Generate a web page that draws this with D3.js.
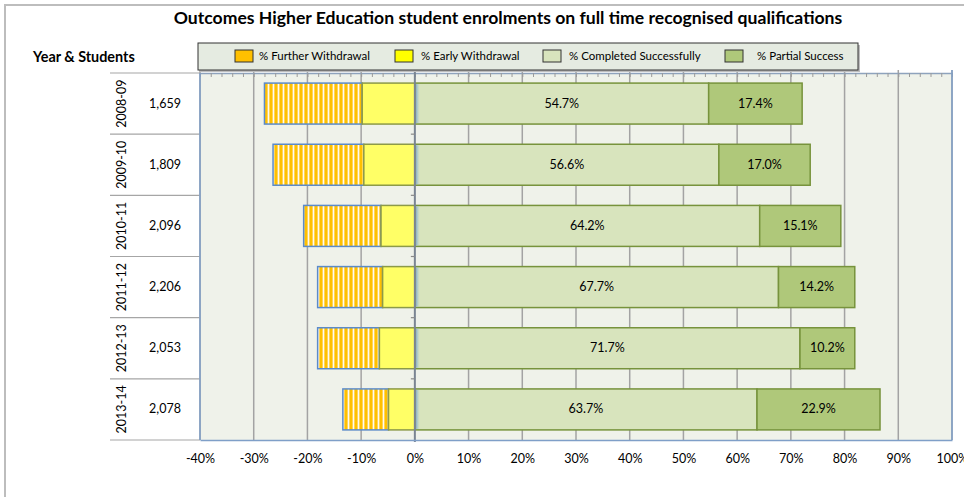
<!DOCTYPE html>
<html>
<head>
<meta charset="utf-8">
<script src="https://cdn.jsdelivr.net/npm/d3@7"></script>
<style>
  html, body { margin: 0; padding: 0; background: #fff; }
  svg { display: block; font-family: Lato, "Open Sans", sans-serif; }
</style>
</head>
<body>
<svg id="chart" width="964" height="497"></svg>
<script>
// Academic years and the number of students enrolled in each
const years = ["2008-09", "2009-10", "2010-11", "2011-12", "2012-13", "2013-14"];
const students = ["1,659", "1,809", "2,096", "2,206", "2,053", "2,078"];

// Outcome shares (%) per year
const furtherWithdrawal = [18.2, 16.9, 14.4, 12.1, 11.5, 8.5];
const earlyWithdrawal = [9.8, 9.5, 6.3, 6.0, 6.6, 4.9];
const completedSuccessfully = [54.7, 56.6, 64.2, 67.7, 71.7, 63.7];
const partialSuccess = [17.4, 17.0, 15.1, 14.2, 10.2, 22.9];

const seriesNames = ["% Further Withdrawal", "% Early Withdrawal", "% Completed Successfully", "% Partial Success"];
const xTicks = [-40, -30, -20, -10, 0, 10, 20, 30, 40, 50, 60, 70, 80, 90, 100];

const svg = d3.select("#chart");

const plot = { left: 200, right: 952, top: 73, bottom: 440 };

const x = d3.scaleLinear().domain([-40, 100]).range([plot.left, plot.right]);
const y = d3.scaleBand().domain(years).range([plot.top, plot.bottom])
  .paddingInner(0.33).paddingOuter(0.165);
const yCell = d3.scaleBand().domain(years).range([plot.top, plot.bottom]);

// Striped fill for the further-withdrawal segments
const defs = svg.append("defs");
const pat = defs.append("pattern").attr("id", "stripes")
  .attr("patternUnits", "userSpaceOnUse").attr("width", 5).attr("height", 10);
pat.append("rect").attr("width", 5).attr("height", 10).attr("fill", "#ffd659");
pat.append("rect").attr("x", 0).attr("width", 2).attr("height", 10).attr("fill", "#ffc000");
pat.append("rect").attr("x", 3).attr("width", 1).attr("height", 10).attr("fill", "#fffaf0");

const zeroGlow = defs.append("linearGradient").attr("id", "zeroGlow");
zeroGlow.append("stop").attr("offset", "0%").attr("stop-color", "#6f9fc8").attr("stop-opacity", 0.8);
zeroGlow.append("stop").attr("offset", "100%").attr("stop-color", "#a8c8d8").attr("stop-opacity", 0);

// Outer frame
svg.append("rect").attr("x", 5).attr("y", 5).attr("width", 980).attr("height", 520)
  .attr("fill", "#fff").attr("stroke", "#bdbdbd").attr("stroke-width", 2);

// Title
svg.append("text").attr("x", 508).attr("y", 24).attr("text-anchor", "middle")
  .attr("font-size", 17.6).attr("font-weight", "bold").attr("fill", "#000")
  .text("Outcomes Higher Education student enrolments on full time recognised qualifications");

// Plot background
svg.append("rect").attr("x", plot.left).attr("y", plot.top)
  .attr("width", plot.right - plot.left).attr("height", plot.bottom - plot.top)
  .attr("fill", "#eff2ea");

// Vertical gridlines
svg.append("g").selectAll("line").data(xTicks.filter(d => d !== 0)).join("line")
  .attr("x1", d => x(d)).attr("x2", d => x(d))
  .attr("y1", plot.top - 3).attr("y2", plot.bottom)
  .attr("stroke", "#a3a3a3").attr("stroke-width", 1.5);

// Top axis with minor ticks
const topAxis = svg.append("g").attr("transform", `translate(0,${plot.top})`)
  .call(d3.axisTop(x).tickValues(d3.range(-40, 101, 2)).tickSizeInner(-4).tickSizeOuter(0).tickFormat(""));
topAxis.select(".domain").attr("stroke", "#8ea3bd").attr("stroke-width", 1.5);
topAxis.selectAll(".tick line").attr("stroke", "#9a9a9a");

// Left header and row labels
svg.append("text").attr("x", 33).attr("y", 62).attr("font-size", 14.4).attr("font-weight", "bold")
  .attr("fill", "#000").text("Year & Students");

const bounds = years.map(d => yCell(d)).concat([plot.bottom]);
svg.append("g").selectAll("line").data(bounds).join("line")
  .attr("x1", 110).attr("x2", plot.left).attr("y1", d => d).attr("y2", d => d)
  .attr("stroke", "#a6a6a6").attr("stroke-width", 1.2);

svg.append("g").selectAll("text").data(years).join("text")
  .attr("transform", d => `translate(126,${yCell(d) + yCell.bandwidth() / 2}) rotate(-90)`)
  .attr("text-anchor", "middle").attr("font-size", 12.5).attr("fill", "#000")
  .text(d => d);

svg.append("g").selectAll("text").data(years).join("text")
  .attr("x", 165).attr("y", d => yCell(d) + yCell.bandwidth() / 2 + 4)
  .attr("text-anchor", "middle").attr("font-size", 12.5).attr("fill", "#000")
  .text((d, i) => students[i]);

// Stacked bars
const rows = years.map((yr, i) => ({
  yr,
  segs: [
    { x0: -(furtherWithdrawal[i] + earlyWithdrawal[i]), x1: -earlyWithdrawal[i], fill: "url(#stripes)", stroke: "#5b8bc9", label: null },
    { x0: -earlyWithdrawal[i], x1: 0, fill: "#ffff66", stroke: "#8c9a48", label: null },
    { x0: 0, x1: completedSuccessfully[i], fill: "#d8e4bd", stroke: "#77933c", label: completedSuccessfully[i] },
    { x0: completedSuccessfully[i], x1: completedSuccessfully[i] + partialSuccess[i], fill: "#afc87a", stroke: "#77933c", label: partialSuccess[i] }
  ]
}));

const rowG = svg.append("g").selectAll("g").data(rows).join("g");
rowG.selectAll("rect").data(d => d.segs.map(s => ({ ...s, yr: d.yr }))).join("rect")
  .attr("x", d => x(d.x0)).attr("width", d => x(d.x1) - x(d.x0))
  .attr("y", d => y(d.yr)).attr("height", y.bandwidth())
  .attr("fill", d => d.fill).attr("stroke", d => d.stroke).attr("stroke-width", 1.5);

rowG.selectAll("text").data(d => d.segs.filter(s => s.label !== null).map(s => ({ ...s, yr: d.yr }))).join("text")
  .attr("x", d => (x(d.x0) + x(d.x1)) / 2).attr("y", d => y(d.yr) + y.bandwidth() / 2 + 4)
  .attr("text-anchor", "middle").attr("font-size", 12.5).attr("fill", "#000")
  .text(d => d.label.toFixed(1) + "%");

// Soft edge along the zero line on each bar
rowG.append("rect")
  .attr("x", x(0) + 1).attr("width", 4)
  .attr("y", d => y(d.yr) + 1).attr("height", y.bandwidth() - 2)
  .attr("fill", "url(#zeroGlow)");

// Zero line (category axis) with ticks between rows
svg.append("line").attr("x1", x(0)).attr("x2", x(0)).attr("y1", plot.top - 3).attr("y2", plot.bottom + 2)
  .attr("stroke", "#7a8592").attr("stroke-width", 2);
svg.append("g").selectAll("line").data(bounds.slice(1, -1)).join("line")
  .attr("x1", x(0) - 4).attr("x2", x(0)).attr("y1", d => d).attr("y2", d => d)
  .attr("stroke", "#8a8a8a").attr("stroke-width", 1.2);

// Plot border: left, right, bottom
svg.append("line").attr("x1", plot.left).attr("x2", plot.left).attr("y1", plot.top).attr("y2", plot.bottom)
  .attr("stroke", "#7f9fc8").attr("stroke-width", 1.5);
svg.append("line").attr("x1", plot.right).attr("x2", plot.right).attr("y1", plot.top - 3).attr("y2", plot.bottom)
  .attr("stroke", "#7f9fc8").attr("stroke-width", 1.5);

// Bottom axis
const bottomAxis = svg.append("g").attr("transform", `translate(0,${plot.bottom})`)
  .call(d3.axisBottom(x).tickValues(xTicks).tickSize(0).tickPadding(14).tickFormat(d => d + "%"));
bottomAxis.select(".domain").attr("stroke", "#7f9fc8").attr("stroke-width", 1.5);
bottomAxis.selectAll("text").attr("font-size", 12.5).attr("fill", "#000").attr("font-family", "Lato, sans-serif");

// Legend
const legend = svg.append("g");
legend.append("rect").attr("x", 200).attr("y", 45).attr("width", 660).attr("height", 27)
  .attr("fill", "#bdbdbd");
legend.append("rect").attr("x", 198).attr("y", 43).attr("width", 660).attr("height", 27)
  .attr("fill", "#e5ebe1").attr("stroke", "#333").attr("stroke-width", 1);
const legendFills = ["#ffc000", "#ffff00", "#d8e4bd", "#afc87a"];
const swatchX = [235, 395, 543, 725];
const labelX = [259, 421, 569, 757];
const item = legend.selectAll("g.item").data(seriesNames).join("g").attr("class", "item");
item.append("rect").attr("x", (d, i) => swatchX[i]).attr("y", 50).attr("width", 18).attr("height", 12)
  .attr("fill", (d, i) => legendFills[i]).attr("stroke", "#333").attr("stroke-width", 1);
item.append("text").attr("x", (d, i) => labelX[i]).attr("y", 60).attr("font-size", 11.5).attr("fill", "#000")
  .text(d => d);
</script>
</body>
</html>
